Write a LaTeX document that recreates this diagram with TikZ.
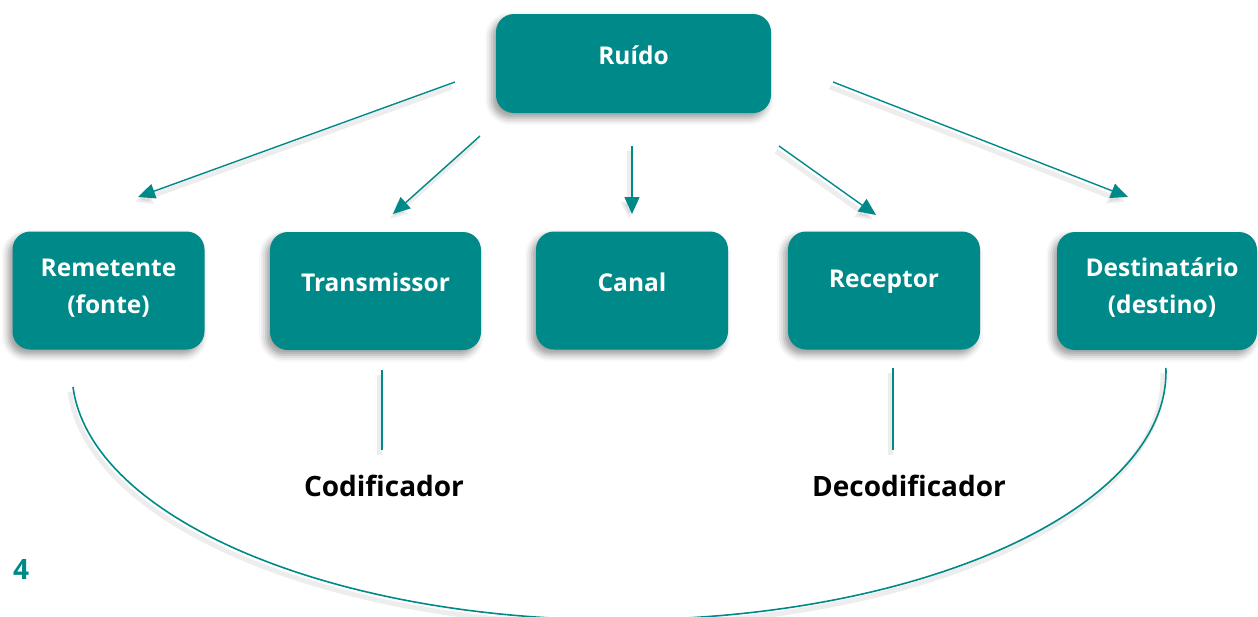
\documentclass[tikz,border=0pt]{standalone}
\usepackage{fontspec}
\setmainfont{Open Sans}
\usetikzlibrary{arrows.meta,positioning,calc,shadows.blur}
\definecolor{tealbox}{RGB}{0,137,137}

\tikzset{
  box/.style={rectangle, rounded corners=18pt, fill=tealbox, minimum width=192pt, minimum height=118pt,
    blur shadow={shadow xshift=-4pt, shadow yshift=-5pt, shadow blur radius=7pt, shadow opacity=40}},
  boxtext/.style={text=white, font=\bfseries\fontsize{24.5}{37}\selectfont, align=center},
  soft/.style={preaction={draw=black, opacity=.07, line width=5pt, transform canvas={shift={(-3pt,-5pt)}}}},
  noise/.style={draw=tealbox, line width=1.4pt, -{Triangle[length=17pt,width=15pt]}, soft},
  link/.style={draw=tealbox, line width=1.6pt, soft},
  codec/.style={font=\bfseries\fontsize{28}{32}\selectfont}
}

\begin{document}
\begin{tikzpicture}[x=1pt, y=1pt]
  \clip (0,0) rectangle (1258,-616);

  % source of noise
  \node[box, minimum width=275pt, minimum height=99pt] (ruido) at (633.5,-63.5) {};
  \node[boxtext] (ruidoT) at (633.5,-55) {Ruído};

  % the chain
  \node[box] (remetente) at (108.5,-290.5) {};
  \node[box, minimum width=211pt] (transmissor) at (375.5,-291) {};
  \node[box] (canal) at (632,-290.5) {};
  \node[box] (receptor) at (884,-290.5) {};
  \node[box, minimum width=200pt] (destino) at (1157,-291) {};
  \node[boxtext] (remetenteT) at (108.5,-288) {Remetente\\(fonte)};
  \node[boxtext] (transmissorT) at (375.5,-282) {Transmissor};
  \node[boxtext] (canalT) at (632,-282) {Canal};
  \node[boxtext] (receptorT) at (884,-282) {Receptor};
  \node[boxtext] (destinoT) at (1162,-288) {Destinatário\\(destino)};

  \node[codec] (codif) at (384,-486) {Codificador};
  \node[codec] (decodif) at (909,-486) {Decodificador};
  \node[text=tealbox, font=\bfseries\fontsize{28}{32}\selectfont] (pagina) at (21,-569) {4};

  % noise arrows
  \coordinate (n1) at (455,-82);   \coordinate (m1) at (138,-197);
  \coordinate (n2) at (480,-136);  \coordinate (m2) at (393,-214);
  \coordinate (n3) at (632,-146);  \coordinate (m3) at (632,-214);
  \coordinate (n4) at (779,-146);  \coordinate (m4) at (876,-215);
  \coordinate (n5) at (833,-82);   \coordinate (m5) at (1128,-197);
  \foreach \i in {1,...,5}
    \draw[noise] (n\i) -- (m\i);

  % coder / decoder ticks
  \coordinate (c1) at (382,-370);  \coordinate (c2) at (382,-450);
  \coordinate (d1) at (893,-368);  \coordinate (d2) at (893,-450);
  \draw[link] (c1) -- (c2);
  \draw[link] (d1) -- (d2);

  % feedback loop
  \coordinate (loopA) at (73,-387);
  \draw[link] (loopA) arc[start angle=183.5, end angle=360.9, x radius=547, y radius=248];
\end{tikzpicture}
\end{document}
